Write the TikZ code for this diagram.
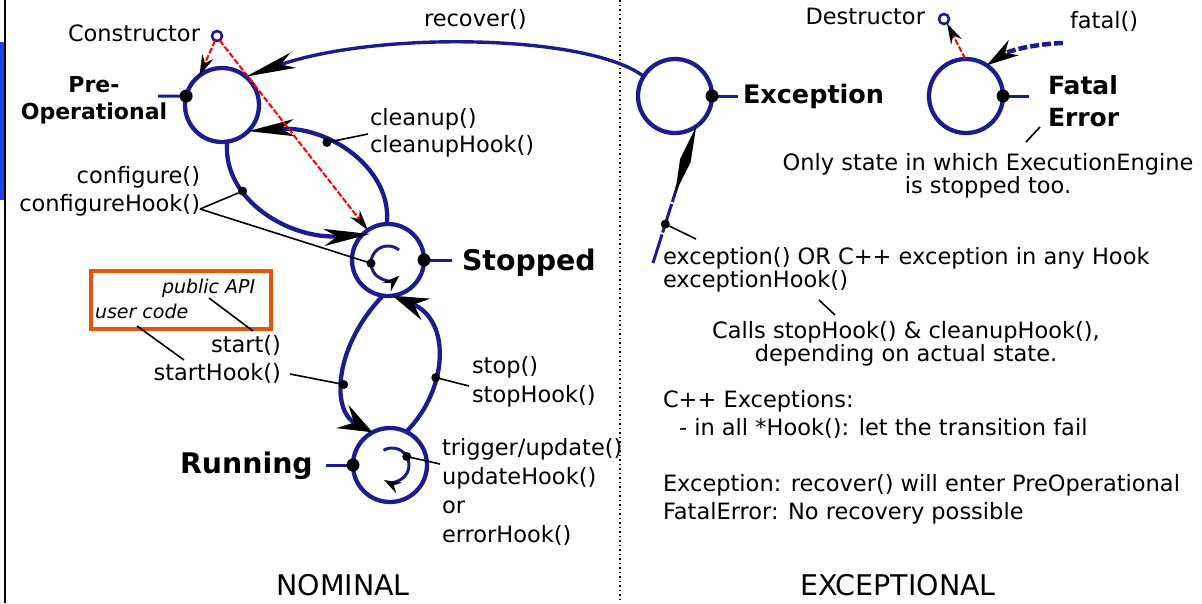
\documentclass[tikz,border=0pt]{standalone}
\usepackage{fontspec}
\setmainfont{DejaVu Sans}
\usetikzlibrary{arrows.meta,calc}
\definecolor{navy}{RGB}{28,28,145}
\definecolor{apiorange}{RGB}{225,85,15}
\definecolor{barblue}{RGB}{30,70,230}
\newcommand{\lblfont}{\fontsize{22.5}{27}\selectfont}
\begin{document}
\begin{tikzpicture}[x=1pt,y=-1pt,
  every node/.style={inner sep=0pt, outer sep=0pt, font=\lblfont},
  state/.style={draw=navy, line width=4.3pt, circle, minimum size=74pt},
  small/.style={draw=navy, line width=2.6pt, circle, minimum size=10pt},
  bigdot/.style={circle, fill=black, minimum size=13pt},
  dot/.style={circle, fill=black, minimum size=9pt},
  stub/.style={draw=navy, line width=3pt},
  trans/.style={draw=navy, line width=4.3pt},
  headsz/.style 2 args={-{Stealth[length=#1,width=#2,inset=13pt,color=black]}},
  loopy/.style={draw=navy, line width=3pt, -{Stealth[length=17pt,width=12pt,inset=6pt,color=black]}},
  reddash/.style={draw=red, line width=2pt, dash pattern=on 6pt off 2pt, -{Stealth[length=21pt,width=12pt,inset=7pt,color=black]}},
  lead/.style={draw=black, line width=1.6pt},
  bold/.style={font=\fontsize{28.4}{32}\selectfont\bfseries},
  midbold/.style={font=\fontsize{25.5}{30}\selectfont\bfseries},
  italic/.style={font=\fontsize{19}{23}\selectfont\itshape},
  big/.style={font=\fontsize{28.5}{32}\selectfont}
]
\useasboundingbox (0,0) rectangle (1202,603);
\fill[white] (0,0) rectangle (1202,603);
% frame marks
\fill[barblue] (0,42) rectangle (4,200);
\draw[black, line width=2pt] (5,0) -- (5,603);
\draw[black, line width=1.5pt, dash pattern=on 1.5pt off 3pt] (620,0) -- (620,603);

% states
\node[state] (preop) at (222,105) {};
\node[state, minimum size=72pt] (stopped) at (388,260) {};
\node[state] (running) at (390,465) {};
\node[state] (exc) at (675,96) {};
\node[state] (fatal) at (966,96) {};
\node[small] (ctor) at (217,36) {};
\node[small] (dtor) at (944,19) {};

% stubs and state dots
\coordinate (preopstub) at (158,96);
\coordinate (stopstub) at (452,260);
\coordinate (runstub) at (326,465);
\coordinate (excstub) at (738,96);
\coordinate (fatalstub) at (1029,96);
\draw[stub] (preopstub) -- (preop.166) node[bigdot] (preopdot) {};
\draw[stub] (stopstub) -- (stopped.0) node[bigdot] (stopdot) {};
\draw[stub] (runstub) -- (running.180) node[bigdot] (rundot) {};
\draw[stub] (excstub) -- (exc.0) node[bigdot] (excdot) {};
\draw[stub] (fatalstub) -- (fatal.0) node[bigdot] (fataldot) {};

% inner loops
\draw[loopy] ($(stopped.center)+(0,3)$) ++(-50:17) arc[start angle=-50, end angle=-312, radius=17]
  node[pos=0.5, dot] (stopinner) {};
\draw[loopy] ($(running.center)+(2,0)$) ++(-120:17) arc[start angle=-120, end angle=118, radius=17];
\node[dot] (runinner) at ($(running.center)+(2,0)+(-30:17)$) {};

% transitions
\draw[trans, line width=3.4pt, headsz={50pt}{16pt}] (exc.148) .. controls (590,35) and (380,30) .. (preop.50);
\draw[trans, headsz={46pt}{17pt}] (stopped.92) .. controls (393,170) and (330,125) .. (preop.-45)
  node[dot, pos=0.64] (cleandot) {};
\draw[trans, headsz={46pt}{17pt}] (preop.-82) .. controls (222,200) and (290,240) .. ($(stopped.center)+(-18,-26)$)
  node[dot, pos=0.32] (cfgdot) {};
\draw[trans, headsz={34pt}{26pt}] (stopped.-98) .. controls (335,345) and (330,410) .. (running.118)
  node[dot, pos=0.57] (startdot) {};
\draw[trans, headsz={36pt}{23pt}] (running.64) .. controls (448,390) and (452,320) .. (stopped.-83)
  node[dot, pos=0.37] (stopdot2) {};

% exception entry
\coordinate (exstart) at (653,263);
\draw[draw=navy, line width=3pt, dash pattern=on 30pt off 2pt,
  -{Kite[length=70pt,width=11pt,inset=34pt,color=black]}] (exstart) -- (exc.-55)
  node[dot, pos=0.285] (excin) {};
% fatal entry
\coordinate (fatalstart) at (1063,43);
\draw[draw=navy, line width=4.5pt, dash pattern=on 9pt off 3pt,
  -{Stealth[length=32pt,width=18pt,inset=10pt,color=black]}] (fatalstart) .. controls (1035,44) and (1010,50) .. (fatal.56);

% red construction / destruction
\draw[reddash] (ctor.-112) -- (preop.128);
\draw[reddash] (ctor.-59) -- (stopped.124);
\draw[reddash] (fatal.91) -- (dtor.-55);

% API box
\draw[apiorange, line width=3.2pt] (91,271) rectangle (271,329);
\node[italic, anchor=base west] (pubapi) at (162,293) {public API};
\node[italic, anchor=base west] (usercode) at (95,318) {user code};

% texts
\node[anchor=base east] (ctorlbl) at (200,41) {Constructor};
\node[font=\fontsize{22}{26}\selectfont\bfseries, anchor=base] (prelbl) at (94,92) {Pre-};
\node[font=\fontsize{22}{26}\selectfont\bfseries, anchor=base] (oplbl) at (94,119) {Operational};
\node[anchor=base west] (reclbl) at (424,26) {recover()};
\node[anchor=base west] (cl1) at (370,125) {cleanup()};
\node[anchor=base west] (cl2) at (370,152) {cleanupHook()};
\node[anchor=base east] (cf1) at (200,183) {configure()};
\node[anchor=base east] (cf2) at (200,211) {configureHook()};
\node[bold, anchor=base west] (stoplbl) at (462,270) {Stopped};
\node[anchor=base east] (st1) at (281,352) {start()};
\node[anchor=base east] (st2) at (281,380) {startHook()};
\node[anchor=base west] (sp1) at (472,373) {stop()};
\node[anchor=base west] (sp2) at (472,402) {stopHook()};
\node[bold, anchor=base west] (runlbl) at (180,473) {Running};
\node[anchor=base west] (up1) at (442,455) {trigger/update()};
\node[anchor=base west] (up2) at (442,484) {updateHook()};
\node[anchor=base west] (up3) at (442,513) {or};
\node[anchor=base west] (up4) at (442,542) {errorHook()};
\node[big, anchor=base] (nominal) at (343,595) {NOMINAL};

\node[midbold, anchor=base west] (exclbl) at (743,103) {Exception};
\node[anchor=base east] (dtorlbl) at (925,24) {Destructor};
\node[anchor=base west] (fatallbl) at (1070,28) {fatal()};
\node[font=\fontsize{25}{30}\selectfont\bfseries, anchor=base west] (fe1) at (1048,94) {Fatal};
\node[font=\fontsize{25}{30}\selectfont\bfseries, anchor=base west] (fe2) at (1048,126) {Error};
\node[anchor=base] (only1) at (988,170) {Only state in which ExecutionEngine};
\node[anchor=base] (only2) at (988,193) {is stopped too.};
\node[anchor=base west] (ex1) at (663,264) {exception() OR C++ exception in any Hook};
\node[anchor=base west] (ex2) at (663,287) {exceptionHook()};
\node[anchor=base] (calls1) at (906,338) {Calls stopHook() \& cleanupHook(),};
\node[anchor=base] (calls2) at (906,361) {depending on actual state.};
\node[anchor=base west] (cpp1) at (663,407) {C++ Exceptions:};
\node[anchor=base west] (cpp2) at (679,435) {- in all *Hook(): let the transition fail};
\node[anchor=base west] (rec1) at (663,491) {Exception: recover() will enter PreOperational};
\node[anchor=base west] (rec2) at (663,519) {FatalError: No recovery possible};
\node[big, anchor=base] (exceptional) at (898,595) {EXCEPTIONAL};

% leader lines
\coordinate (clend) at (368,134);
\coordinate (cfend) at (200,209);
\coordinate (stend) at (290,374);
\coordinate (spend) at (469,386);
\coordinate (upend) at (440,464);
\coordinate (exend) at (696,239);
\coordinate (errA) at (1040,127);
\coordinate (errB) at (1026,142);
\coordinate (callA) at (819,300);
\coordinate (callB) at (835,315);
\coordinate (pubA) at (209,298);
\coordinate (pubB) at (253,331);
\coordinate (usrA) at (137,326);
\coordinate (usrB) at (184,360);
\draw[lead] (cleandot) -- (clend);
\draw[lead] (cfend) -- (cfgdot);
\draw[lead] (cfend) -- (stopinner);
\draw[lead] (stend) -- (startdot);
\draw[lead] (stopdot2) -- (spend);
\draw[lead] (runinner) -- (upend);
\draw[lead] (excin) -- (exend);
\draw[lead] (errA) -- (errB);
\draw[lead] (callA) -- (callB);
\draw[lead] (pubA) -- (pubB);
\draw[lead] (usrA) -- (usrB);
\end{tikzpicture}
\end{document}
